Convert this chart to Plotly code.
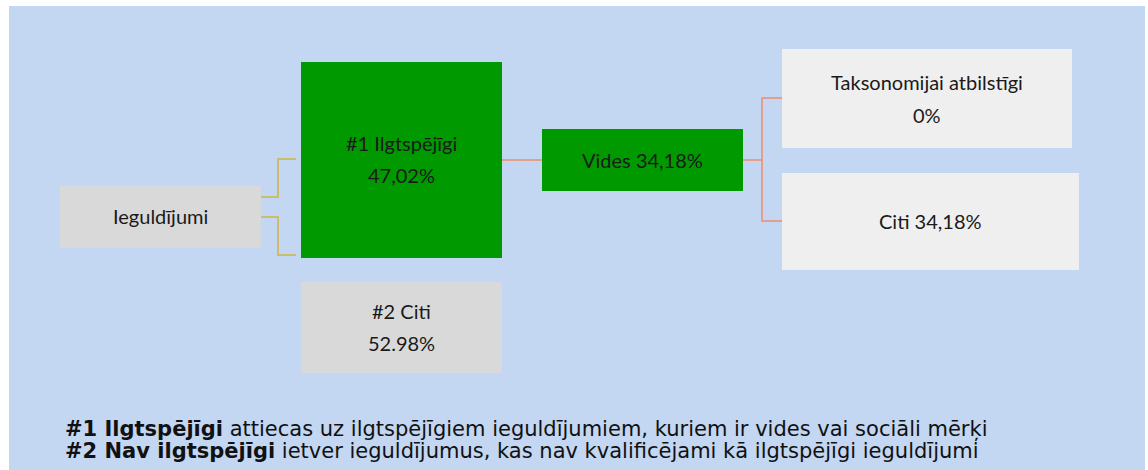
import plotly.graph_objects as go

# ---- data ----
node_names = ["Ieguldījumi", "#1 Ilgtspējīgi", "#2 Citi", "Vides", "Taksonomijai atbilstīgi", "Citi"]
node_values = ["", "47,02%", "52.98%", "34,18%", "0%", "34,18%"]
footer_bold = ["#1 Ilgtspējīgi", "#2 Nav ilgtspējīgi"]
footer_text = [
    " attiecas uz ilgtspējīgiem ieguldījumiem, kuriem ir vides vai sociāli mērķi",
    " ietver ieguldījumus, kas nav kvalificējami kā ilgtspējīgi ieguldījumi",
]

# ---- layout (pixel space) ----
W, H = 1148, 470
BG = "#c3d6f2"
GREEN = "#009900"
GRAY = "#d9d9d9"
LIGHT = "#efefef"
TAN = "#cbbd6e"
ORANGE = "#f08c6c"
TXT = "#1a1a1a"
FONT = "Lato, Open Sans, sans-serif"

boxes = [
    (60, 261, 186, 248, GRAY),
    (301, 502, 62, 258, GREEN),
    (301, 502, 282, 373, GRAY),
    (542, 743, 129, 191, GREEN),
    (782, 1072, 49, 148, LIGHT),
    (782, 1079, 173, 270, LIGHT),
]
text_specs = [
    [(node_names[0], 216)],
    [(node_names[1], 143), (node_values[1], 175)],
    [(node_names[2], 311), (node_values[2], 343)],
    [(node_names[3] + " " + node_values[3], 160)],
    [(node_names[4], 82), (node_values[4], 115)],
    [(node_names[5] + " " + node_values[5], 221)],
]

fig = go.Figure()
shapes = []
shapes.append(dict(type="rect", xref="x", yref="y", x0=9, x1=1145, y0=6, y1=H + 5,
                   fillcolor=BG, line=dict(width=0), layer="below"))
for (x0, x1, y0, y1, c) in boxes:
    shapes.append(dict(type="rect", xref="x", yref="y", x0=x0, x1=x1, y0=y0, y1=y1,
                       fillcolor=c, line=dict(width=0)))


def path(pts, color, w):
    d = "M " + " L ".join(f"{x},{y}" for x, y in pts)
    return dict(type="path", xref="x", yref="y", path=d, line=dict(color=color, width=w))


shapes.append(path([(261, 197), (278, 197), (278, 159), (296, 159)], TAN, 2))
shapes.append(path([(261, 217), (278, 217), (278, 255), (296, 255)], TAN, 2))
shapes.append(path([(502, 160), (542, 160)], ORANGE, 1.5))
shapes.append(path([(743, 160), (762, 160)], ORANGE, 1.5))
shapes.append(path([(782, 98), (762, 98), (762, 221), (782, 221)], ORANGE, 1.5))

annotations = []
for i, (x0, x1, y0, y1, c) in enumerate(boxes):
    cx = (x0 + x1) / 2
    for t, y in text_specs[i]:
        annotations.append(dict(x=cx, y=y, xref="x", yref="y", text=t, showarrow=False,
                                xanchor="center", yanchor="middle",
                                font=dict(family=FONT, size=20, color=TXT)))

for i, (b, t) in enumerate(zip(footer_bold, footer_text)):
    annotations.append(dict(x=63, y=[429, 451][i], xref="x", yref="y",
                            text=f"<b>{b}</b>{t}", showarrow=False,
                            xanchor="left", yanchor="middle",
                            font=dict(family="DejaVu Sans, Verdana, sans-serif", size=21, color="#111111")))

fig.update_layout(
    width=W, height=H,
    margin=dict(l=0, r=0, t=0, b=0),
    paper_bgcolor="white", plot_bgcolor="white",
    shapes=shapes, annotations=annotations,
    xaxis=dict(range=[0, W], visible=False, fixedrange=True),
    yaxis=dict(range=[H, 0], visible=False, fixedrange=True),
    showlegend=False,
)
fig.write_html("out.html", config={"displayModeBar": False},
               post_script="document.body.style.margin='0';document.body.style.overflow='hidden';")
